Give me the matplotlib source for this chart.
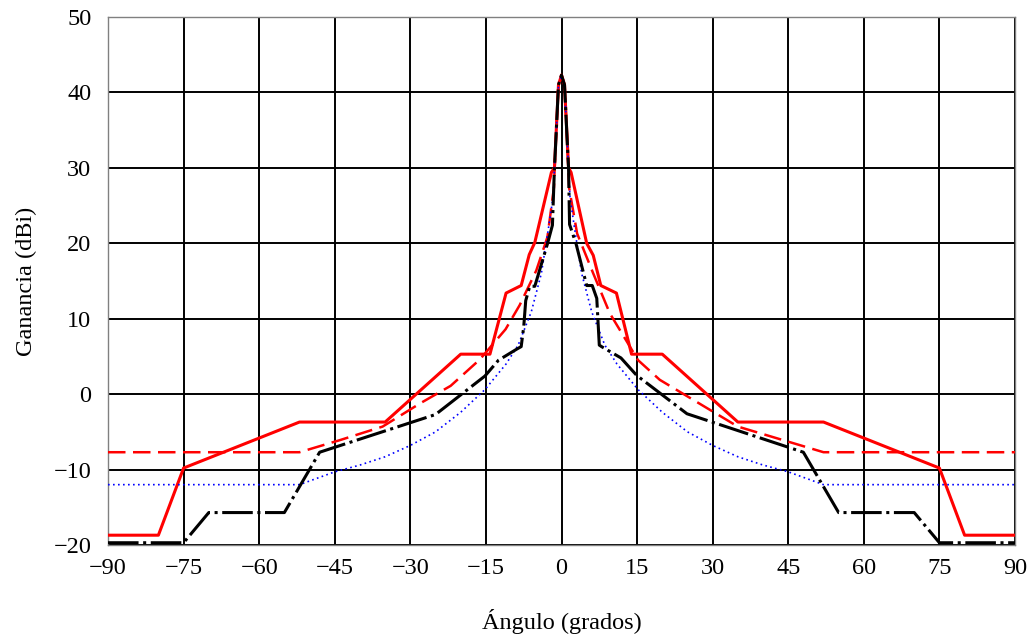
import matplotlib
matplotlib.use("Agg")
import matplotlib.pyplot as plt

plt.rcParams['font.family'] = ['Liberation Serif', 'DejaVu Serif']

# Envolvente (roja continua)
envAng = [-90, -80, -75, -52, -35, -20, -14.2, -11.0, -8.0, -6.4, -5.3, -2.0, -1.4, -0.6, 0,
          0.6, 1.4, 1.9, 5.0, 6.3, 7.8, 10.9, 13.9, 20, 35, 52, 75, 80, 90]
envGan = [-18.7, -18.7, -9.8, -3.7, -3.7, 5.3, 5.3, 13.4, 14.4, 18.5, 20.1, 29.4, 30.0, 41.0, 42.3,
          41.0, 30.0, 29.4, 20.0, 18.4, 14.4, 13.4, 5.3, 5.3, -3.7, -3.7, -9.8, -18.7, -18.7]

# Curva roja discontinua
rojaAng = [-90, -52, -44, -35.5, -28, -22, -16.2, -11.1, -8.3, -5.0, -2.8, -1.5, -1.2, -0.6, 0,
           0.6, 1.2, 1.5, 3.1, 6.3, 9.6, 15.2, 19.5, 28.5, 35, 44, 52, 90]
rojaGan = [-7.7, -7.7, -6.1, -4.3, -1.2, 1.1, 4.6, 8.6, 11.8, 16.4, 20.8, 27.4, 32.6, 41.0, 42.3,
           41.0, 32.6, 27.4, 21.3, 16.0, 10.7, 4.5, 1.9, -1.7, -4.3, -6.1, -7.7, -7.7]

# Curva negra (trazo y punto)
negraAng = [-90, -75, -70, -55, -48, -25, -15.2, -12.5, -8.8, -8.0, -7.5, -7.1, -6.3, -5.3, -2.8,
            -1.8, -1.4, -1.2, -0.6, 0, 0.6, 1.2, 1.4, 1.6, 2.9, 5.0, 6.1, 7.0, 7.5, 7.95, 11.8,
            14.9, 24.9, 48, 55, 70, 75, 90]
negraGan = [-19.7, -19.7, -15.7, -15.7, -7.7, -2.7, 2.4, 4.5, 6.0, 6.3, 8.9, 12.4, 14.3, 14.3, 19.9,
            22.4, 30.0, 32.6, 41.0, 42.3, 41.0, 32.6, 30.0, 22.5, 19.9, 14.4, 14.4, 12.7, 6.5, 6.3, 4.8,
            2.5, -2.6, -7.7, -15.7, -15.7, -19.7, -19.7]

# Curva azul (punteada)
azulAng = [-90, -52, -45, -40, -35, -30, -25, -20, -15.2, -11.0, -8.6, -6.0, -4.0, -2.7, -1.7, -1.2,
           -0.6, 0, 0.6, 1.2, 1.7, 2.7, 4.0, 6.0, 8.6, 11.0, 15.2, 20, 25, 30, 35, 40, 45, 52, 90]
azulGan = [-12.0, -12.0, -10.3, -9.4, -8.3, -6.8, -5.0, -2.4, 0.6, 4.0, 6.5, 10.9, 16.0, 21.5, 26.0,
           32.6, 41.0, 42.3, 41.0, 32.6, 26.0, 21.5, 16.0, 10.9, 6.5, 4.0, 0.6, -2.4, -5.0, -6.8, -8.3,
           -9.4, -10.3, -12.0, -12.0]

xTicks = list(range(-90, 91, 15))
yTicks = list(range(-20, 51, 10))

fig = plt.figure(figsize=(10.32, 6.41), dpi=100)
ax = fig.add_axes([108/1032, 1 - 545/641, 907/1032, 528/641])

ax.plot(envAng, envGan, color='red', lw=2.2, zorder=3)
ax.plot(rojaAng, rojaGan, color='red', lw=1.8, linestyle=(0, (7, 3)), zorder=3)
ax.plot(azulAng, azulGan, color='blue', lw=1.2, linestyle=(0, (1, 2)), zorder=4)
ax.plot(negraAng, negraGan, color='black', lw=2.2, linestyle=(0, (10, 1.5, 1, 1.5)), zorder=5)

ax.set_xlim(-90, 90)
ax.set_ylim(-20, 50)
ax.set_xticks(xTicks)
ax.set_yticks(yTicks)
ax.grid(True, color='black', lw=1.4)
ax.set_axisbelow(True)
ax.tick_params(length=0, labelsize=17.5)
ax.tick_params(axis='x', pad=9)
ax.tick_params(axis='y', pad=12)
for s in ax.spines.values():
    s.set_color('#808080')
    s.set_linewidth(1.0)

ax.set_xlabel('Ángulo (grados)', fontsize=17.5)
ax.set_ylabel('Ganancia (dBi)', fontsize=17.5)
ax.xaxis.set_label_coords(0.5, -0.122)
ax.yaxis.set_label_coords(-0.078, 0.5)

fig.savefig('out.png', dpi=100)
